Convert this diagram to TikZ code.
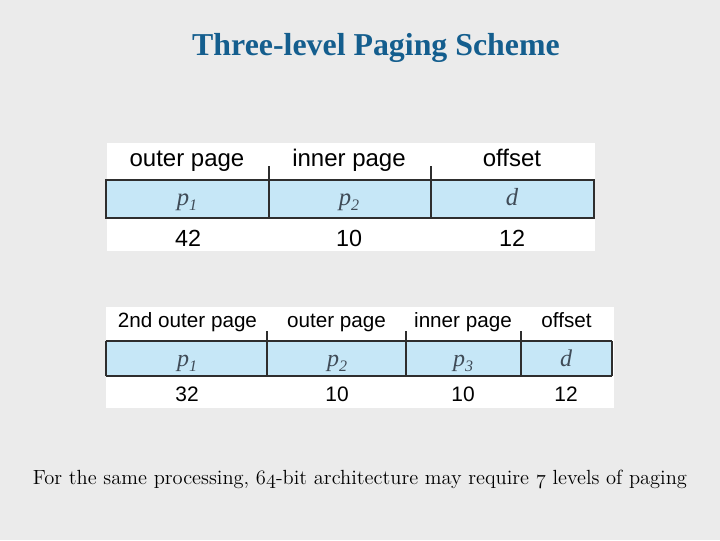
\documentclass[tikz,border=0pt]{standalone}
\usepackage{fontspec}
\newfontfamily\arialf{Liberation Sans}
\newfontfamily\timesf{Liberation Serif}
\definecolor{bg}{HTML}{EBEBEB}
\definecolor{cellblue}{HTML}{C6E7F7}
\definecolor{titleblue}{HTML}{145E8E}
\definecolor{pgray}{HTML}{3F4B57}
\definecolor{rule}{HTML}{2E2E2E}
\tikzset{
  titletext/.style={anchor=base, inner sep=0pt, text=titleblue, font=\timesf\bfseries\fontsize{23.9pt}{28pt}\selectfont},
  headA/.style={anchor=base, inner sep=0pt, font=\arialf\fontsize{18pt}{21pt}\selectfont},
  headB/.style={anchor=base, inner sep=0pt, font=\arialf\fontsize{15.5pt}{18pt}\selectfont},
  numA/.style={anchor=base, inner sep=0pt, font=\arialf\fontsize{17.5pt}{21pt}\selectfont},
  numB/.style={anchor=base, inner sep=0pt, font=\arialf\fontsize{15.7pt}{18pt}\selectfont},
  varA/.style={anchor=base, inner sep=0pt, text=pgray, font=\timesf\itshape\fontsize{18.5pt}{21pt}\selectfont},
  varB/.style={anchor=base, inner sep=0pt, text=pgray, font=\timesf\itshape\fontsize{18pt}{21pt}\selectfont},
  rowline/.style={draw=rule, line width=1pt},
  capt/.style={anchor=base, inner sep=0pt, font=\fontsize{14.4pt}{17pt}\selectfont},
}
\newcommand{\sub}[1]{\raisebox{-4.3pt}{\fontsize{12pt}{13pt}\selectfont #1}}
\newcommand{\osn}[1]{{\usefont{OML}{cmm}{m}{it}#1}}
\begin{document}
\begin{tikzpicture}[x=0.75pt,y=-0.75pt]
\fill[bg] (0,0) rectangle (720,540);
\useasboundingbox (0,0) rectangle (720,540);
\node[titletext] (title) at (376,55) {Three-level Paging Scheme};
% table 1
\fill[white] (107,143) rectangle (595,251);
\fill[cellblue] (106,180) rectangle (594,218);
\draw[rowline] (106,180) rectangle (594,218);
\draw[rowline] (269,166) -- (269,218);
\draw[rowline] (431,166) -- (431,218);
\node[headA] (h11) at (187,166.5) {outer page};
\node[headA] (h12) at (349,166.5) {inner page};
\node[headA] (h13) at (512,166.5) {offset};
\node[varA] (v11) at (187,205) {p\sub{1}};
\node[varA] (v12) at (349,205) {p\sub{2}};
\node[varA] (v13) at (512,205) {d};
\node[numA] (n11) at (188,246) {42};
\node[numA] (n12) at (349,246) {10};
\node[numA] (n13) at (512,246) {12};
% table 2
\fill[white] (106,307) rectangle (614,408);
\fill[cellblue] (106,341) rectangle (612,376);
\draw[rowline] (106,341) -- (612,341) (106,376) -- (612,376) (106,341) -- (106,376);
\draw[draw=rule, line width=2.2pt] (612,341) -- (612,376);
\draw[rowline] (267,331) -- (267,376);
\draw[rowline] (406,331) -- (406,376);
\draw[rowline] (521,331) -- (521,376);
\node[headB] (h21) at (187.5,327.5) {2nd outer page};
\node[headB] (h22) at (336.5,327.5) {outer page};
\node[headB] (h23) at (463,327.5) {inner page};
\node[headB] (h24) at (566.5,327.5) {offset};
\node[varB] (v21) at (187,366) {p\sub{1}};
\node[varB] (v22) at (337,366) {p\sub{2}};
\node[varB] (v23) at (463,366) {p\sub{3}};
\node[varB] (v24) at (566,366) {d};
\node[numB] (n21) at (187,401.5) {32};
\node[numB] (n22) at (337,401.5) {10};
\node[numB] (n23) at (463,401.5) {10};
\node[numB] (n24) at (566,401.5) {12};
% caption
\node[capt] (cap) at (360,484) {\resizebox{490.5pt}{!}{For the same processing, \osn{64}-bit architecture may require \osn{7} levels of paging}};
\end{tikzpicture}
\end{document}
